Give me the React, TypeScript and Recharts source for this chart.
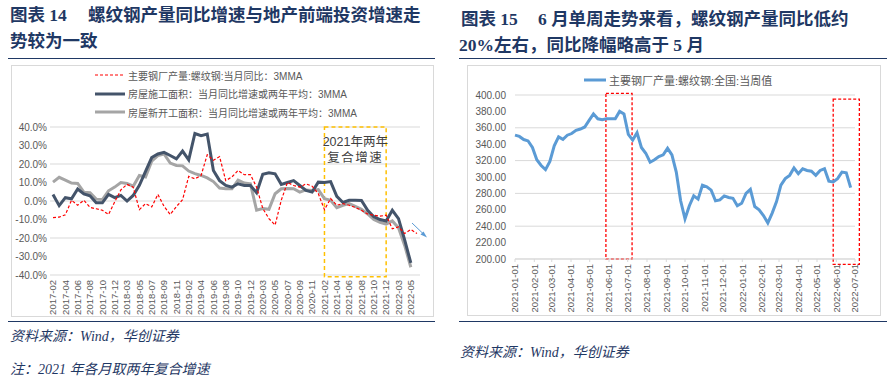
import { CartesianGrid, Legend, Line, LineChart, ReferenceArea, XAxis, YAxis } from 'recharts'

// ---- left chart: monthly, Jan merged into Feb ----
const monthLabels = [
  '2017-02', '2017-03', '2017-04', '2017-05', '2017-06', '2017-07', '2017-08', '2017-09', '2017-10', '2017-11', '2017-12',
  '2018-02', '2018-03', '2018-04', '2018-05', '2018-06', '2018-07', '2018-08', '2018-09', '2018-10', '2018-11', '2018-12',
  '2019-02', '2019-03', '2019-04', '2019-05', '2019-06', '2019-07', '2019-08', '2019-09', '2019-10', '2019-11', '2019-12',
  '2020-02', '2020-03', '2020-04', '2020-05', '2020-06', '2020-07', '2020-08', '2020-09', '2020-10', '2020-11', '2020-12',
  '2021-02', '2021-03', '2021-04', '2021-05', '2021-06', '2021-07', '2021-08', '2021-09', '2021-10', '2021-11', '2021-12',
  '2022-02', '2022-03', '2022-04', '2022-05', '2022-06',
]

// 主要钢厂产量:螺纹钢:当月同比:3MMA
const rebarYoY = [
  -9, -8.7, -7.5, 0.4, -2.3, 0.4, -3.5, -4.2, -5, -7.3, -0.5,
  6, 9, 7.5, -4.7, -1.4, -3.2, 3.6, -2.9, -7.3, -3, 0.7,
  13.3, 12, 13.8, 25, 22, 24, 11, 13, 16.5, 14.2, 14.3,
  7.5, -4, -9.5, -13, 0.4, 10, 8.4, 7.5, 9.3, 8, 4,
  -4.7, 1.3, -2.3, -1.4, -2.3, -3.5, -5, -7, -7.7, -8.2, -7.7,
  -15, -14, -17.6, -15.4, -17.6,
]

// 房屋施工面积
const constructionArea = [
  3.5, -2.5, 1.8, 1.2, 6.5, 3.8, 2.8, -1, -1, 3.6, 1.8,
  3, 0, 3, 8.5, 16, 23.5, 25.4, 26.3, 24.6, 22.8, 27,
  22.2, 36.5, 35.3, 36.2, 16.5, 11, 8.4, 7.5, 9.3, 8.4, 8.4,
  4.5, 14.5, 15.2, 14.7, 9, 10, 11, 8.4, 5.7, 4.8, 10.2,
  10, 10.5, 2.5, -0.8, 0.4, 0.4, 0.3, -5, -8.5, -10, -10.8,
  -5, -9.5, -21, -33.5,
]

// 房屋新开工面积
const newStartsArea = [
  10.2, 12.8, 11.3, 9.7, 9.5, 4.8, 4.5, 1, 0.8, 5.5, 7.5,
  10, 9.5, 8, 13.8, 13, 21.5, 24.5, 25.4, 20.5, 19.2, 19,
  16.2, 14.8, 13.8, 12.5, 10.5, 7, 6.6, 6.6, 11.3, 9.7, 9.3,
  -5, -4.1, -4.5, 3.9, 6.6, 6.8, 6.6, 4.8, 6, 5.7, 6.1,
  1.3, 0.4, -3.6, -2.3, -1.4, -2.9, -4.5, -7, -10, -11.5, -12.5,
  -10.8, -14.5, -24, -35.8,
]

const leftTicks = [-40, -30, -20, -10, 0, 10, 20, 30, 40]

const leftSeries = [
  { key: 'rebar', name: '主要钢厂产量:螺纹钢:当月同比：3MMA', color: '#ff0000', width: 1.2, dash: '3 2' },
  { key: 'construction', name: '房屋施工面积：当月同比增速或两年平均：3MMA', color: '#44546a', width: 3, dash: undefined },
  { key: 'newStarts', name: '房屋新开工面积：当月同比增速或两年平均：3MMA', color: '#a5a5a5', width: 3, dash: undefined },
]

// ---- right chart: weekly ----
const weekStart = '2021-01-01'
const weeklyOutput = [
  351, 349.5, 345.7, 344, 336, 321, 314, 309, 319, 338,
  349, 346, 351, 353, 357, 358.5, 361, 369, 377, 371,
  370, 371, 371, 371, 380, 377, 352, 345, 354, 336,
  329, 318, 321, 325, 327, 335, 327, 306, 271, 249,
  265, 277, 273, 290, 288, 284, 271, 272, 277, 275,
  274, 265, 268, 280, 285, 264, 260, 253, 244, 256,
  270, 290, 298, 302, 311, 304, 310, 308, 307, 302,
  308, 310, 295, 294, 298, 306, 305, 287,
]
const rightTickLabels = [
  '2021-01-01', '2021-02-01', '2021-03-01', '2021-04-01', '2021-05-01', '2021-06-01', '2021-07-01',
  '2021-08-01', '2021-09-01', '2021-10-01', '2021-11-01', '2021-12-01', '2022-01-01', '2022-02-01',
  '2022-03-01', '2022-04-01', '2022-05-01', '2022-06-01', '2022-07-01',
]
const rightTicks = [200, 220, 240, 260, 280, 300, 320, 340, 360, 380, 400]
const highlightWeeks = [
  { from: '2021-05-27', to: '2021-07-08', low: 200, high: 402 },
  { from: '2022-05-27', to: '2022-07-08', low: 193.5, high: 395 },
]

const dayOf = (s: string) => Math.round((Date.parse(s) - Date.parse(weekStart)) / 86400000)

const leftRows = monthLabels.map((month, i) => ({
  month,
  rebar: rebarYoY[i],
  construction: constructionArea[i] ?? null,
  newStarts: newStartsArea[i] ?? null,
}))

const rightRows = weeklyOutput.map((value, k) => ({ day: k * 7, value }))
const rightTickDays = rightTickLabels.map(dayOf)

const axisFont = '"Liberation Sans", "Noto Sans CJK SC", sans-serif'
const titleFont = '"Liberation Serif", "Noto Sans CJK SC", serif'
const navy = '#1f3864'
const tickGrey = '#595959'

function RotatedTick(props: any) {
  const { x, y, payload, format } = props
  const label = format ? format(payload.value) : payload.value
  return (
    <text
      x={x}
      y={y}
      transform={`rotate(-90, ${x}, ${y})`}
      textAnchor="end"
      dy="0.35em"
      fontSize={9.5}
      fontFamily={axisFont}
      fill={tickGrey}
    >
      {label}
    </text>
  )
}

function BoxNote(props: any) {
  const { viewBox } = props
  if (!viewBox) return null
  const cx = viewBox.x + viewBox.width / 2
  return (
    <g fontFamily={axisFont} fontSize={12.5} fill="#404040" textAnchor="middle">
      <text x={cx} y={viewBox.y + 19}>2021年两年</text>
      <text x={cx} y={viewBox.y + 35} letterSpacing={1.5}>复合增速</text>
    </g>
  )
}

function LeftLegend() {
  return (
    <div style={{ fontFamily: axisFont, fontSize: 10, color: tickGrey }}>
      {leftSeries.map((s) => (
        <div key={s.key} style={{ display: 'flex', alignItems: 'center', height: 18.5, whiteSpace: 'nowrap' }}>
          <svg width={30} height={6} style={{ marginRight: 3 }}>
            <line x1={0} y1={3} x2={30} y2={3} stroke={s.color} strokeWidth={s.width} strokeDasharray={s.dash} />
          </svg>
          <span>{s.name}</span>
        </div>
      ))}
    </div>
  )
}

function RightLegend() {
  return (
    <div style={{ display: 'flex', alignItems: 'center', fontFamily: axisFont, fontSize: 11, color: tickGrey, whiteSpace: 'nowrap' }}>
      <svg width={22} height={6} style={{ marginRight: 3 }}>
        <line x1={0} y1={3} x2={22} y2={3} stroke="#5b9bd5" strokeWidth={3} />
      </svg>
      <span>主要钢厂产量:螺纹钢:全国:当周值</span>
    </div>
  )
}

function formatDay(d: number) {
  const i = rightTickDays.indexOf(d)
  return i >= 0 ? rightTickLabels[i] : ''
}

function LeftChart() {
  return (
    <LineChart width={422} height={250} data={leftRows} margin={{ top: 61, right: 13, bottom: 0, left: 0 }}>
      <CartesianGrid vertical={false} stroke="#d9d9d9" />
      <XAxis
        dataKey="month"
        interval={1}
        height={41}
        tickSize={0}
        tickMargin={5}
        axisLine={false}
        tickLine={false}
        padding={{ left: 3, right: 3 }}
        tick={<RotatedTick />}
      />
      <YAxis
        domain={[-40, 40]}
        ticks={leftTicks}
        width={39}
        tickSize={0}
        tickMargin={3}
        axisLine={false}
        tickLine={false}
        tick={{ fill: tickGrey, fontSize: 10, fontFamily: axisFont }}
        tickFormatter={(v: number) => `${v.toFixed(1)}%`}
      />
      <ReferenceArea
        x1="2021-02"
        x2="2021-12"
        y1={-41}
        y2={40}
        ifOverflow="visible"
        fill="none"
        fillOpacity={0}
        stroke="#ffc000"
        strokeWidth={1.5}
        strokeDasharray="4 3"
        label={(p: any) => <BoxNote {...p} />}
      />
      <Legend
        layout="vertical"
        align="center"
        verticalAlign="middle"
        wrapperStyle={{ top: 0, left: 84, width: 320 }}
        content={() => <LeftLegend />}
      />
      <Line
        dataKey="newStarts"
        stroke="#a5a5a5"
        strokeWidth={3}
        dot={false}
        isAnimationActive={false}
        type="linear"
      />
      <Line
        dataKey="construction"
        stroke="#44546a"
        strokeWidth={3}
        dot={false}
        isAnimationActive={false}
        type="linear"
      />
      <Line
        dataKey="rebar"
        stroke="#ff0000"
        strokeWidth={1.2}
        strokeDasharray="3 2"
        dot={false}
        isAnimationActive={false}
        type="linear"
      />
    </LineChart>
  )
}

function RightChart() {
  return (
    <LineChart width={413} height={249} data={rightRows} margin={{ top: 29, right: 25, bottom: 0, left: 0 }}>
      <CartesianGrid vertical={false} stroke="#d9d9d9" />
      <XAxis
        type="number"
        dataKey="day"
        domain={[0, 546]}
        ticks={rightTickDays}
        interval={0}
        height={56}
        tickSize={3}
        tickMargin={2}
        stroke="#d9d9d9"
        tick={<RotatedTick format={formatDay} />}
      />
      <YAxis
        domain={[200, 400]}
        ticks={rightTicks}
        width={48}
        tickSize={0}
        tickMargin={9}
        axisLine={false}
        tickLine={false}
        tick={{ fill: tickGrey, fontSize: 10, fontFamily: axisFont }}
        tickFormatter={(v: number) => v.toFixed(2)}
      />
      {highlightWeeks.map((h) => (
        <ReferenceArea
          key={h.from}
          x1={dayOf(h.from)}
          x2={dayOf(h.to)}
          y1={h.low}
          y2={h.high}
          ifOverflow="visible"
          fill="none"
          fillOpacity={0}
          stroke="#ff0000"
          strokeWidth={1.3}
          strokeDasharray="3 2"
        />
      ))}
      <Legend
        layout="vertical"
        align="center"
        verticalAlign="middle"
        wrapperStyle={{ top: 6, left: 117, width: 250 }}
        content={() => <RightLegend />}
      />
      <Line dataKey="value" stroke="#5b9bd5" strokeWidth={3} dot={false} isAnimationActive={false} type="linear" />
    </LineChart>
  )
}

const abs = (left: number, top: number, extra: any = {}) => ({ position: 'absolute' as const, left, top, ...extra })

export default function App() {
  const titleStyle = { fontFamily: titleFont, fontWeight: 700, fontSize: 17.5, lineHeight: '18px', color: navy, whiteSpace: 'nowrap' as const }
  const footStyle = { fontFamily: titleFont, fontStyle: 'italic' as const, fontSize: 14, lineHeight: '16px', color: navy, whiteSpace: 'nowrap' as const }
  return (
    <div style={{ position: 'absolute', left: 0, top: 0, width: 896, height: 382, background: '#fff', overflow: 'hidden' }}>
      {/* titles */}
      <div style={{ ...abs(10, 6), ...titleStyle }}>图表 14</div>
      <div style={{ ...abs(88, 6), ...titleStyle }}>螺纹钢产量同比增速与地产前端投资增速走</div>
      <div style={{ ...abs(10, 32), ...titleStyle }}>势较为一致</div>
      <div style={{ ...abs(461, 10), ...titleStyle }}>图表 15</div>
      <div style={{ ...abs(538, 10), ...titleStyle }}>6 月单周走势来看，螺纹钢产量同比低约</div>
      <div style={{ ...abs(459, 36), ...titleStyle }}>20%左右，同比降幅略高于 5 月</div>

      {/* rules */}
      <div style={abs(8, 58, { width: 427, height: 0, borderTop: `1.5px solid ${navy}` })} />
      <div style={abs(459, 58, { width: 428, height: 0, borderTop: `1.5px solid ${navy}` })} />
      <div style={abs(8, 321, { width: 427, height: 0, borderTop: `1.5px solid ${navy}` })} />
      <div style={abs(459, 321, { width: 428, height: 0, borderTop: `1.5px solid ${navy}` })} />

      {/* chart frames */}
      <div style={abs(11, 65, { width: 421, height: 250, border: '1px solid #d9d9d9' })} />
      <div style={abs(467, 65, { width: 412, height: 249, border: '1px solid #d9d9d9' })} />

      <div style={abs(11, 66)}>
        <LeftChart />
      </div>
      <div style={abs(467, 66)}>
        <RightChart />
      </div>

      {/* trend arrow */}
      <svg style={abs(405, 216)} width={28} height={28}>
        <line x1={7} y1={7} x2={19} y2={18.5} stroke="#5b9bd5" strokeWidth={1} />
        <polygon points="22,21.5 15.5,18.5 18.5,15.5" fill="#5b9bd5" />
      </svg>

      {/* sources */}
      <div style={{ ...abs(10, 329), ...footStyle }}>资料来源：Wind，华创证券</div>
      <div style={{ ...abs(10, 362), ...footStyle }}>注：2021 年各月取两年复合增速</div>
      <div style={{ ...abs(460, 345), ...footStyle }}>资料来源：Wind，华创证券</div>
    </div>
  )
}
